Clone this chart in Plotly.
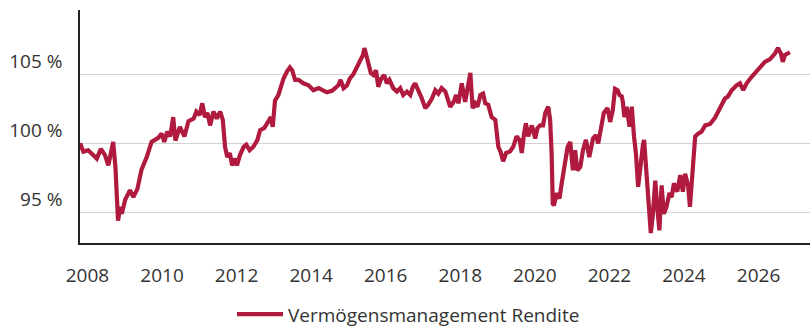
import plotly.graph_objects as go

# Portfolio performance index (start = 100 %), sampled as decimal years
years = [
    2007.80, 2007.82, 2007.89, 2008.02, 2008.15, 2008.25, 2008.36, 2008.47, 2008.56, 2008.69,
    2008.75, 2008.80, 2008.82, 2008.88, 2008.92, 2009.01, 2009.14, 2009.23, 2009.34, 2009.45,
    2009.59, 2009.72, 2009.90, 2009.99, 2010.06, 2010.14, 2010.22, 2010.30, 2010.36, 2010.48,
    2010.60, 2010.71, 2010.85, 2010.92, 2011.01, 2011.08, 2011.15, 2011.22, 2011.29, 2011.38,
    2011.47, 2011.56, 2011.63, 2011.69, 2011.75, 2011.82, 2011.88, 2011.96, 2012.01, 2012.09,
    2012.19, 2012.26, 2012.35, 2012.45, 2012.56, 2012.63, 2012.74, 2012.82, 2012.92, 2012.97,
    2013.03, 2013.12, 2013.19, 2013.26, 2013.35, 2013.43, 2013.49, 2013.57, 2013.66, 2013.79,
    2013.93, 2014.06, 2014.20, 2014.29, 2014.42, 2014.56, 2014.64, 2014.73, 2014.79, 2014.87,
    2014.96, 2015.04, 2015.13, 2015.23, 2015.31, 2015.39, 2015.43, 2015.47, 2015.54, 2015.60,
    2015.67, 2015.74, 2015.80, 2015.88, 2015.96, 2016.03, 2016.10, 2016.20, 2016.30, 2016.39,
    2016.47, 2016.57, 2016.66, 2016.73, 2016.79, 2016.88, 2016.97, 2017.06, 2017.14, 2017.24,
    2017.33, 2017.41, 2017.50, 2017.60, 2017.68, 2017.73, 2017.82, 2017.89, 2017.95, 2018.04,
    2018.13, 2018.20, 2018.27, 2018.33, 2018.40, 2018.46, 2018.54, 2018.61, 2018.67, 2018.75,
    2018.84, 2018.94, 2019.00, 2019.02, 2019.08, 2019.15, 2019.23, 2019.33, 2019.42, 2019.51,
    2019.59, 2019.65, 2019.71, 2019.76, 2019.82, 2019.92, 2020.01, 2020.07, 2020.14, 2020.22,
    2020.28, 2020.36, 2020.41, 2020.45, 2020.48, 2020.51, 2020.59, 2020.66, 2020.72, 2020.81,
    2020.88, 2020.95, 2021.02, 2021.08, 2021.14, 2021.22, 2021.29, 2021.37, 2021.46, 2021.56,
    2021.64, 2021.70, 2021.77, 2021.85, 2021.95, 2022.02, 2022.09, 2022.15, 2022.22, 2022.27,
    2022.33, 2022.36, 2022.40, 2022.46, 2022.54, 2022.60, 2022.66, 2022.71, 2022.77, 2022.84,
    2022.90, 2022.93, 2022.98, 2023.04, 2023.11, 2023.16, 2023.23, 2023.29, 2023.34, 2023.40,
    2023.46, 2023.53, 2023.61, 2023.67, 2023.73, 2023.82, 2023.90, 2023.97, 2024.03, 2024.11,
    2024.16, 2024.20, 2024.25, 2024.30, 2024.38, 2024.47, 2024.57, 2024.70, 2024.83, 2024.97,
    2025.10, 2025.18, 2025.28, 2025.41, 2025.50, 2025.59, 2025.68, 2025.81, 2025.95, 2026.08,
    2026.17, 2026.31, 2026.44, 2026.52, 2026.60, 2026.65, 2026.71, 2026.84,
]
rendite = [
    100.0, 99.9, 99.4, 99.5, 99.15, 98.9, 99.6, 99.15, 98.4, 100.1,
    98.3, 95.65, 94.4, 95.4, 94.9, 95.9, 96.6, 96.1, 96.7, 98.1,
    99.0, 100.1, 100.4, 100.7, 100.1, 100.85, 100.5, 101.9, 100.2, 101.2,
    100.5, 101.6, 101.8, 102.3, 102.05, 102.9, 101.9, 102.2, 101.3, 102.3,
    101.8, 102.3, 101.7, 99.75, 99.0, 99.3, 98.4, 98.9, 98.4, 99.15,
    99.75, 99.9, 99.5, 99.75, 100.25, 100.95, 101.1, 101.45, 101.9, 101.2,
    103.1, 103.5, 104.1, 104.7, 105.2, 105.5, 105.3, 104.6, 104.6, 104.35,
    104.2, 103.85, 104.0, 103.9, 103.7, 103.8, 104.0, 104.2, 104.6, 104.0,
    104.2, 104.7, 105.0, 105.5, 106.0, 106.4, 106.9, 106.4, 105.8, 105.1,
    104.95, 105.3, 104.1, 104.7, 104.95, 104.35, 104.6, 104.0, 103.75, 104.0,
    103.5, 103.75, 103.5, 104.1, 104.35, 103.85, 103.25, 102.55, 102.8, 103.25,
    103.85, 103.6, 104.0, 103.75, 103.1, 102.65, 103.0, 103.5, 102.9, 104.35,
    103.0, 104.1, 105.1, 102.55, 102.9, 102.65, 103.5, 103.6, 102.9, 102.8,
    101.9, 101.7, 100.5, 99.75, 99.4, 98.7, 99.3, 99.4, 99.75, 100.5,
    100.25, 99.3, 100.7, 101.45, 100.5, 101.3, 100.35, 101.1, 101.3, 101.3,
    102.2, 102.65, 101.7, 99.3, 95.65, 95.5, 96.4, 96.0, 97.1, 98.8,
    99.75, 100.1, 98.05, 99.5, 98.05, 98.3, 99.5, 100.25, 99.0, 100.35,
    100.6, 100.0, 101.1, 102.2, 102.55, 101.55, 102.4, 103.95, 103.85, 103.5,
    103.4, 103.0, 101.9, 102.65, 101.2, 102.65, 100.5, 99.3, 96.85, 98.8,
    99.9, 100.25, 98.3, 96.4, 93.5, 94.7, 97.3, 95.15, 93.7, 96.95,
    94.9, 95.4, 96.4, 96.1, 97.1, 96.5, 97.7, 96.5, 97.8, 96.95,
    95.4, 96.85, 99.0, 100.5, 100.7, 100.85, 101.3, 101.4, 101.85, 102.5,
    103.25, 103.4, 103.85, 104.2, 104.35, 103.85, 104.35, 104.8, 105.2, 105.55,
    105.9, 106.1, 106.5, 106.9, 106.5, 105.9, 106.4, 106.6,
]

x_ticks = [2008, 2010, 2012, 2014, 2016, 2018, 2020, 2022, 2024, 2026]
x_tick_labels = [str(y) for y in x_ticks]
y_ticks = [95, 100, 105]
y_tick_labels = [f"{v} %" for v in y_ticks]

series_name = "Vermögensmanagement Rendite"
line_color = "#b01a3e"
text_color = "#333333"
font_family = "Open Sans"
font_size = 19

fig = go.Figure(
    go.Scatter(
        x=years,
        y=rendite,
        mode="lines",
        name=series_name,
        line=dict(color=line_color, width=4.2),
        showlegend=True,
    )
)

fig.update_layout(
    width=812,
    height=327,
    margin=dict(l=80, r=2, t=10, b=84, autoexpand=False),
    paper_bgcolor="white",
    plot_bgcolor="white",
    font=dict(family=font_family, size=font_size, color=text_color),
    showlegend=True,
    legend=dict(
        orientation="h",
        x=0.45,
        xanchor="center",
        y=-0.306,
        yanchor="middle",
        itemwidth=46,
        font=dict(family=font_family, size=font_size, color=text_color),
        bgcolor="rgba(0,0,0,0)",
    ),
)

fig.update_xaxes(
    range=[2007.80, 2027.38],
    tickmode="array",
    tickvals=x_ticks,
    ticktext=x_tick_labels,
    showgrid=False,
    zeroline=False,
    showline=True,
    linecolor="#222222",
    linewidth=1.5,
    ticks="",
    ticklabelstandoff=14,
    tickfont=dict(family=font_family, size=font_size, color=text_color),
)

fig.update_yaxes(
    range=[92.78, 109.66],
    tickmode="array",
    tickvals=y_ticks,
    ticktext=y_tick_labels,
    showgrid=True,
    gridcolor="#d2d2d2",
    gridwidth=1.2,
    zeroline=False,
    showline=True,
    linecolor="#222222",
    linewidth=1.5,
    ticks="",
    ticklabelposition="outside top",
    ticklabelstandoff=12,
    tickfont=dict(family=font_family, size=font_size, color=text_color),
)

fig.write_html("out.html")
